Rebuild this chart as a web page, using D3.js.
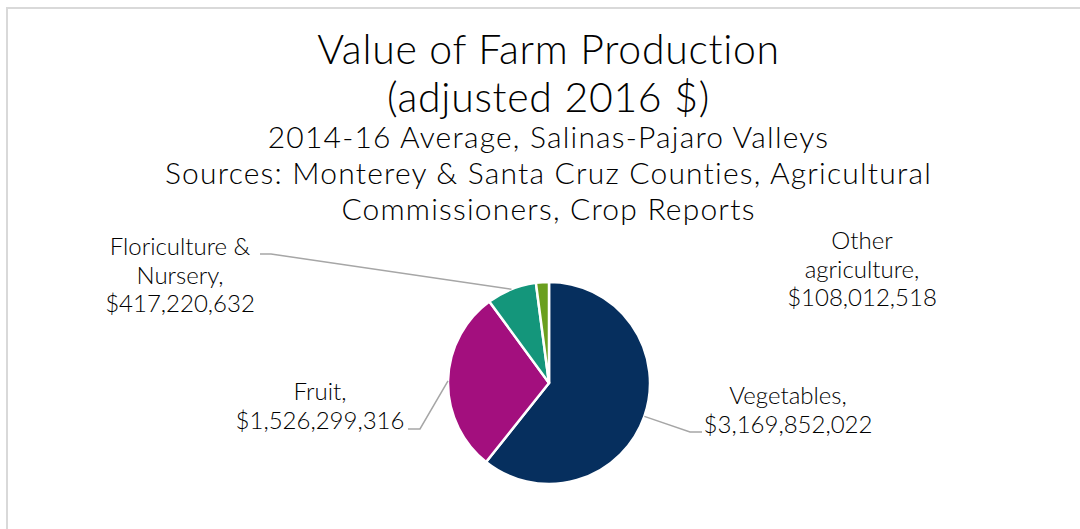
<!DOCTYPE html>
<html>
<head>
  <meta charset="utf-8">
  <script src="https://d3js.org/d3.v7.min.js"></script>
  <style>
    body { margin: 0; background: #fff; }
    text { font-family: "Century Gothic", Lato, sans-serif; font-weight: 300; fill: #000; }
  </style>
</head>
<body>
  <script type="text/javascript">
    // chart data (2014-16 average, adjusted 2016 $)
    var categories = ["Vegetables", "Fruit", "Floriculture & Nursery", "Other agriculture"];
    var values = [3169852022, 1526299316, 417220632, 108012518];
    var colors = ["#062f5e", "#a30f7e", "#14967b", "#6a9f1e"];
    // label lines as shown in the chart
    var labelLines = [
      ["Vegetables,", "$3,169,852,022"],
      ["Fruit,", "$1,526,299,316"],
      ["Floriculture &", "Nursery,", "$417,220,632"],
      ["Other", "agriculture,", "$108,012,518"]
    ];
    var titleLines = ["Value of Farm Production", "(adjusted 2016 $)"];
    var subtitleLines = [
      "2014-16 Average, Salinas-Pajaro Valleys",
      "Sources: Monterey & Santa Cruz Counties, Agricultural",
      "Commissioners, Crop Reports"
    ];

    var width = 1080, height = 529;
    var cx = 549, cy = 383, radius = 101;

    // where each label sits (centre x, first baseline) and where its leader starts
    var labelLayout = [
      { x: 788, y: 404, leader: [702, 432], elbow: [690, 432] },
      { x: 320, y: 400, leader: [408, 429], elbow: [420, 429] },
      { x: 180, y: 255, leader: [260, 254], elbow: [271, 254] },
      { x: 862, y: 249, leader: null }
    ];

    var svg = d3.select("body")
      .append("svg")
        .attr("width", width)
        .attr("height", height);

    // chart area border
    svg.append("rect")
      .attr("x", 7)
      .attr("y", 8)
      .attr("width", 1200)
      .attr("height", 700)
      .attr("fill", "#fff")
      .attr("stroke", "#d9d9d9")
      .attr("stroke-width", 2);

    // titles
    svg.selectAll("text.title")
      .data(titleLines)
      .enter().append("text")
        .attr("class", "title")
        .attr("x", 548.5)
        .attr("y", function (d, i) { return 64 + i * 48; })
        .attr("text-anchor", "middle")
        .style("font-size", "41px")
        .style("letter-spacing", "0.7px")
        .text(function (d) { return d; });

    svg.selectAll("text.subtitle")
      .data(subtitleLines)
      .enter().append("text")
        .attr("class", "subtitle")
        .attr("x", 548.5)
        .attr("y", function (d, i) { return 148 + i * 36; })
        .attr("text-anchor", "middle")
        .style("font-size", "30px")
        .style("letter-spacing", "1.2px")
        .text(function (d) { return d; });

    var data = categories.map(function (c, i) {
      return { name: c, value: values[i], color: colors[i], lines: labelLines[i], layout: labelLayout[i] };
    });

    var pie = d3.pie().sort(null).value(function (d) { return d.value; });
    var arc = d3.arc().innerRadius(0).outerRadius(radius);
    var arcs = pie(data);

    var g = svg.append("g").attr("transform", "translate(" + cx + "," + cy + ")");

    g.selectAll("path.slice")
      .data(arcs)
      .enter().append("path")
        .attr("class", "slice")
        .attr("d", arc)
        .attr("fill", function (d) { return d.data.color; })
        .attr("stroke", "#fff")
        .attr("stroke-width", 2.5)
        .attr("stroke-linejoin", "round");

    // leader lines: from label to the outer middle of the slice
    arcs.forEach(function (a) {
      var L = a.data.layout;
      if (!L.leader) return;
      var mid = (a.startAngle + a.endAngle) / 2;
      var px = cx + radius * Math.sin(mid),
          py = cy - radius * Math.cos(mid);
      svg.append("polyline")
        .attr("points", [L.leader, L.elbow, [px, py]].map(function (p) { return p.join(","); }).join(" "))
        .attr("fill", "none")
        .attr("stroke", "#a6a6a6")
        .attr("stroke-width", 1.5);
    });

    // data labels
    data.forEach(function (d) {
      var t = svg.append("text")
        .attr("class", "label")
        .attr("text-anchor", "middle")
        .style("font-size", "24px");
      t.selectAll("tspan")
        .data(d.lines)
        .enter().append("tspan")
          .attr("x", d.layout.x)
          .attr("y", function (s, i) { return d.layout.y + i * 28.5; })
          .text(function (s) { return s; });
    });
  </script>
</body>
</html>
